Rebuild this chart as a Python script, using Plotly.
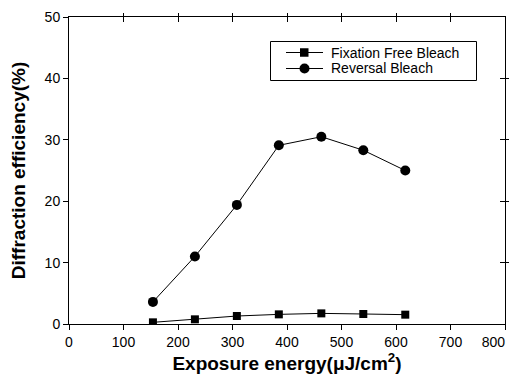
import plotly.graph_objects as go

energy = [154, 231, 308, 385, 463, 540, 617]
fixation_free = [0.27, 0.76, 1.3, 1.57, 1.73, 1.63, 1.52]
reversal = [3.6, 11.0, 19.4, 29.1, 30.5, 28.3, 25.0]
series_names = ["Fixation Free Bleach", "Reversal Bleach"]
x_ticks = [0, 100, 200, 300, 400, 500, 600, 700, 800]
x_tick_labels = ["0", "100", "200", "300", "400", "500", "600", "700", "800"]
y_ticks = [0, 10, 20, 30, 40, 50]

font = "Liberation Sans, Arial, sans-serif"

# page body has 8px margin; plot area in screen px: x 69..505, y 17..324
PL, PW, PB, PH = 69.0, 436.0, 324.0, 307.0
def fx(sx):
    return (sx - PL) / PW
def fy(sy):
    return (PB - sy) / PH

# keep the last x label inside the page (as in the reference)
x_text = x_tick_labels[:-1] + [x_tick_labels[-1] + "\u00a0" * 6]

fig = go.Figure()
fig.add_trace(go.Scatter(x=energy, y=fixation_free, mode="lines+markers",
                         name=series_names[0], showlegend=False,
                         line=dict(color="black", width=1),
                         marker=dict(symbol="square", size=8, color="black")))
fig.add_trace(go.Scatter(x=energy, y=reversal, mode="lines+markers",
                         name=series_names[1], showlegend=False,
                         line=dict(color="black", width=1),
                         marker=dict(symbol="circle", size=10, color="black")))

common = dict(showgrid=False, zeroline=False, showline=True, linecolor="black",
              linewidth=1, tickcolor="black", ticklen=5, automargin=False,
              ticklabeloverflow="allow",
              minor=dict(ticklen=3, tickcolor="black", nticks=2))

shapes = []
annotations = []
# legend box
shapes.append(dict(type="rect", xref="paper", yref="paper",
                   x0=fx(270.5), x1=fx(476.5), y0=fy(80.5), y1=fy(41.5),
                   line=dict(color="black", width=1), fillcolor="white", layer="above"))
rows = [52.5, 68.5]
for i, (name, sy) in enumerate(zip(series_names, rows)):
    shapes.append(dict(type="line", xref="paper", yref="paper",
                       x0=fx(286), x1=fx(323), y0=fy(sy), y1=fy(sy),
                       line=dict(color="black", width=1), layer="above"))
    if i == 0:
        shapes.append(dict(type="rect", xref="paper", yref="paper",
                           x0=fx(300), x1=fx(308.5), y0=fy(sy + 4.25), y1=fy(sy - 4.25),
                           line=dict(color="black", width=0), fillcolor="black", layer="above"))
    else:
        shapes.append(dict(type="circle", xref="paper", yref="paper",
                           x0=fx(299.5), x1=fx(309.5), y0=fy(sy + 5), y1=fy(sy - 5),
                           line=dict(color="black", width=0), fillcolor="black", layer="above"))
    annotations.append(dict(text=name, xref="paper", yref="paper",
                            x=fx(329), y=fy(sy), xanchor="left", yanchor="middle",
                            showarrow=False, font=dict(size=14, family=font, color="black")))

fig.update_layout(
    width=509, height=368,
    margin=dict(l=61, r=12, t=9, b=52),
    paper_bgcolor="white", plot_bgcolor="white",
    font=dict(family=font, color="black", size=14),
    showlegend=False,
    shapes=shapes, annotations=annotations,
    xaxis=dict(range=[0, 800], tickvals=x_ticks, ticktext=x_text, ticks="outside",
               title=dict(text="<b>Exposure energy(μJ/cm<sup>2</sup>)</b>",
                          font=dict(size=19), standoff=3),
               **common),
    yaxis=dict(range=[0, 50], tickvals=y_ticks, ticks="outside",
               title=dict(text="<b>Diffraction efficiency(%)</b>",
                          font=dict(size=19), standoff=13),
               **common),
    xaxis2=dict(range=[0, 800], tickvals=x_ticks, ticks="inside",
                overlaying="x", side="top", showticklabels=False, **common),
    yaxis2=dict(range=[0, 50], tickvals=y_ticks, ticks="inside",
                overlaying="y", side="right", showticklabels=False, **common),
)
fig.add_trace(go.Scatter(x=[None], y=[None], xaxis="x2", yaxis="y2",
                         showlegend=False, hoverinfo="skip"))

fig.write_html("out.html")
